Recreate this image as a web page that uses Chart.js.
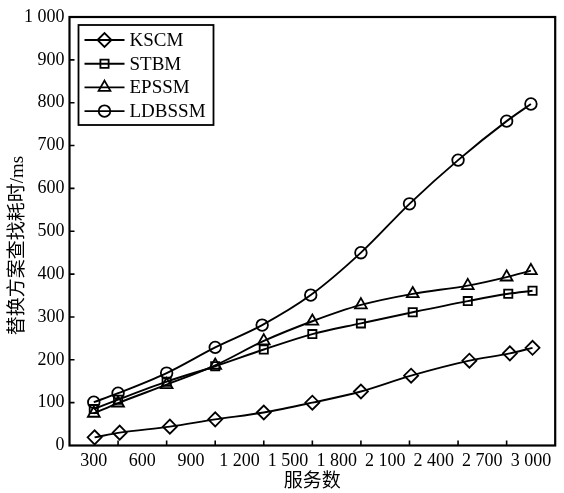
<!DOCTYPE html>
<html><head><meta charset="utf-8">
<script src="https://cdn.jsdelivr.net/npm/chart.js@4/dist/chart.umd.min.js"></script>
<style>html,body{margin:0;padding:0;background:#fff}#wrap{width:564px;height:493px}</style>
</head><body><div id="wrap"><canvas id="c" width="564" height="493"></canvas></div>
<script>
// ---- data ----
const seriesNames = ['KSCM', 'STBM', 'EPSSM', 'LDBSSM'];
const kscmX   = [305, 460, 770, 1050, 1350, 1650, 1950, 2260, 2620, 2870, 3010];
const kscmY   = [19, 30, 44, 61, 77, 100, 126, 163, 198, 215, 228];
const stbmX   = [300, 450, 750, 1050, 1350, 1650, 1950, 2270, 2610, 2860, 3010];
const stbmY   = [85, 107, 149, 185, 224, 260, 285, 311, 337, 354, 361];
const epssmX  = [300, 450, 750, 1050, 1350, 1650, 1950, 2270, 2610, 2850, 3000];
const epssmY  = [75, 99, 142, 187, 244, 290, 328, 354, 373, 393, 408];
const ldbssmX = [300, 450, 750, 1050, 1340, 1640, 1950, 2250, 2550, 2850, 3000];
const ldbssmY = [101, 122, 169, 229, 281, 351, 450, 564, 666, 757, 797];
const xTickValues = [300, 600, 900, 1200, 1500, 1800, 2100, 2400, 2700, 3000];
const xTickLabels = ['300', '600', '900', '1 200', '1 500', '1 800', '2 100', '2 400', '2 700', '3 000'];
const yTickValues = [0, 100, 200, 300, 400, 500, 600, 700, 800, 900, 1000];
const yTickLabels = ['0', '100', '200', '300', '400', '500', '600', '700', '800', '900', '1 000'];
const xTitle = '服务数';
const yTitle = '替换方案查找耗时/ms';

const pair = (xs, ys) => xs.map((x, i) => ({x: x, y: ys[i]}));
const serif = '"Liberation Serif", "Times New Roman", "Noto Sans CJK SC", serif';

function ds(label, xs, ys, style, r) {
  return {
    label: label, data: pair(xs, ys),
    borderColor: '#000', backgroundColor: 'rgba(0,0,0,0)',
    borderWidth: 1.9, pointStyle: style, pointRadius: r,
    pointBorderWidth: 1.8, pointBorderColor: '#000',
    pointBackgroundColor: 'rgba(0,0,0,0)',
    cubicInterpolationMode: 'monotone', clip: false
  };
}

const framePlugin = {
  id: 'frame',
  afterDatasetsDraw(chart) {
    const {ctx, chartArea: a, scales} = chart;
    ctx.save();
    ctx.strokeStyle = '#000';
    ctx.lineWidth = 2.2;
    ctx.strokeRect(a.left, a.top, a.right - a.left, a.bottom - a.top);
    // inward tick marks
    ctx.lineWidth = 1.6;
    ctx.beginPath();
    const step = xTickValues[1] - xTickValues[0];
    xTickValues.slice(0, -1).forEach(v => {
      const px = scales.x.getPixelForValue(v + step / 2);
      ctx.moveTo(px, a.bottom); ctx.lineTo(px, a.bottom - 5);
    });
    yTickValues.slice(1, -1).forEach(v => {
      const py = scales.y.getPixelForValue(v);
      ctx.moveTo(a.left, py); ctx.lineTo(a.left + 5, py);
    });
    ctx.stroke();
    // legend box
    const lx = a.left + 9, ly = a.top + 8, lw = 135, lh = 100;
    ctx.lineWidth = 1.8;
    ctx.strokeRect(lx, ly, lw, lh);
    ctx.font = '19px ' + serif;
    ctx.textBaseline = 'middle';
    ctx.textAlign = 'left';
    chart.data.datasets.forEach((d, i) => {
      const y = ly + 15 + i * 23.7;
      ctx.beginPath();
      ctx.lineWidth = 1.9;
      ctx.moveTo(lx + 6, y); ctx.lineTo(lx + 46, y);
      ctx.stroke();
      ctx.fillStyle = 'rgba(0,0,0,0)';
      ctx.strokeStyle = '#000';
      ctx.lineWidth = 1.8;
      Chart.helpers.drawPoint(ctx, {pointStyle: d.pointStyle, radius: d.pointRadius, borderWidth: 1.8, rotation: 0}, lx + 26, y);
      ctx.fillStyle = '#000';
      ctx.fillText(d.label, lx + 51, y + 1);
    });
    ctx.restore();
  }
};

new Chart(document.getElementById('c'), {
  type: 'line',
  data: {
    datasets: [
      ds(seriesNames[0], kscmX, kscmY, 'rectRot', 7),
      ds(seriesNames[1], stbmX, stbmY, 'rect', 5.8),
      ds(seriesNames[2], epssmX, epssmY, 'triangle', 6.8),
      ds(seriesNames[3], ldbssmX, ldbssmY, 'circle', 5.8)
    ]
  },
  options: {
    responsive: false, animation: false, devicePixelRatio: 1,
    layout: {padding: {left: 0, right: 4, top: 17, bottom: 0}},
    plugins: {legend: {display: false}, tooltip: {enabled: false}},
    scales: {
      x: {
        type: 'linear', min: 150, max: 3150,
        afterBuildTicks: s => { s.ticks = xTickValues.map(v => ({value: v})); },
        afterFit: s => { s.height = 47.5; },
        grid: {display: false, drawTicks: false},
        border: {display: false},
        ticks: {
          autoSkip: false, maxRotation: 0, padding: 5, color: '#000',
          font: {family: serif, size: 18},
          callback: v => { const i = xTickValues.indexOf(v); return i >= 0 ? xTickLabels[i] : ''; }
        },
        title: {display: true, text: xTitle, color: '#000', font: {family: serif, size: 19}, padding: {top: 0, bottom: 0}}
      },
      y: {
        type: 'linear', min: 0, max: 1000,
        afterBuildTicks: s => { s.ticks = yTickValues.map(v => ({value: v})); },
        afterFit: s => { s.width = 69.5; },
        grid: {display: false, drawTicks: false},
        border: {display: false},
        ticks: {
          padding: 5, color: '#000', font: {family: serif, size: 18},
          callback: v => { const i = yTickValues.indexOf(v); return i >= 0 ? yTickLabels[i] : ''; }
        },
        title: {display: true, text: yTitle + '      ', color: '#000', font: {family: serif, size: 19}, padding: {top: 7, bottom: 0}}
      }
    }
  },
  plugins: [framePlugin]
});
</script>
</body></html>
